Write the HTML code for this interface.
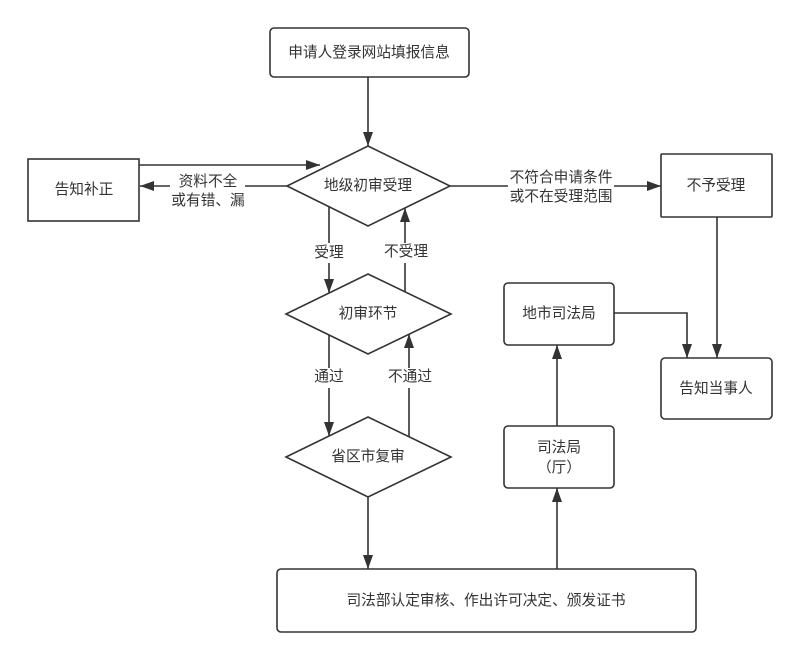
<!DOCTYPE html>
<html><head><meta charset="utf-8">
<style>
html,body{margin:0;padding:0;background:#fff;}
svg{display:block;}
text{font-family:"Liberation Sans","Noto Sans CJK SC",sans-serif;font-size:14.7px;fill:#333;}
</style></head>
<body>
<svg width="800" height="660" viewBox="0 0 800 660" xmlns="http://www.w3.org/2000/svg">
<defs>
<marker id="a" markerWidth="14" markerHeight="10" refX="14" refY="5" orient="auto" markerUnits="userSpaceOnUse">
<path d="M0,0 L14,5 L0,10 Z" fill="#333"/>
</marker>
</defs>
<g stroke="#333" stroke-width="1.6" fill="none">
<!-- boxes -->
<rect x="270" y="28" width="199" height="49" rx="4" fill="#fff"/>
<rect x="28" y="159" width="111" height="62" fill="#fff"/>
<rect x="661" y="154" width="111" height="63" rx="1" fill="#fff"/>
<rect x="504" y="283" width="110" height="62" rx="4" fill="#fff"/>
<rect x="661" y="358" width="111" height="61" rx="4" fill="#fff"/>
<rect x="504" y="426" width="110" height="62" rx="4" fill="#fff"/>
<rect x="277" y="569" width="419" height="63" rx="4" fill="#fff"/>
<!-- diamonds -->
<polygon points="368,146 450,186 368,226 287,186" fill="#fff"/>
<polygon points="368,274 451,314 368,354 286,314" fill="#fff"/>
<polygon points="368,417 451,457 368,497 286,457" fill="#fff"/>
<!-- connectors -->
<line x1="368" y1="77" x2="368" y2="146" marker-end="url(#a)"/>
<line x1="139" y1="165" x2="320" y2="165" marker-end="url(#a)"/>
<line x1="287" y1="186" x2="140" y2="186" marker-end="url(#a)"/>
<line x1="450" y1="186" x2="661" y2="186" marker-end="url(#a)"/>
<line x1="717" y1="217" x2="717" y2="358" marker-end="url(#a)"/>
<polyline points="614,313 687,313 687,358" marker-end="url(#a)"/>
<line x1="557" y1="426" x2="557" y2="345" marker-end="url(#a)"/>
<line x1="557" y1="569" x2="557" y2="488" marker-end="url(#a)"/>
<line x1="329" y1="207" x2="329" y2="293" marker-end="url(#a)"/>
<line x1="405" y1="292" x2="405" y2="208" marker-end="url(#a)"/>
<line x1="329" y1="335" x2="329" y2="436" marker-end="url(#a)"/>
<line x1="409" y1="437" x2="409" y2="334" marker-end="url(#a)"/>
<line x1="368" y1="497" x2="368" y2="569" marker-end="url(#a)"/>
</g>
<!-- label backgrounds -->
<g fill="#fff">
<rect x="170" y="172" width="75" height="38"/>
<rect x="508" y="168" width="106" height="38"/>
<rect x="312" y="243" width="34" height="20"/>
<rect x="383" y="243" width="46" height="20"/>
<rect x="312" y="368" width="34" height="20"/>
<rect x="386" y="368" width="48" height="20"/>
</g>
<g text-anchor="middle" dominant-baseline="central">
<text x="369" y="53">申请人登录网站填报信息</text>
<text x="84" y="190">告知补正</text>
<text x="368" y="186">地级初审受理</text>
<text x="716" y="186">不予受理</text>
<text x="559" y="314">地市司法局</text>
<text x="716" y="389">告知当事人</text>
<text x="368" y="314">初审环节</text>
<text x="368" y="457">省区市复审</text>
<text x="559" y="448">司法局</text>
<text x="559" y="468">（厅）</text>
<text x="486" y="601">司法部认定审核、作出许可决定、颁发证书</text>
<text x="208" y="182">资料不全</text>
<text x="208" y="201">或有错、漏</text>
<text x="561" y="178">不符合申请条件</text>
<text x="561" y="197">或不在受理范围</text>
<text x="329" y="253">受理</text>
<text x="406" y="252">不受理</text>
<text x="329" y="377">通过</text>
<text x="410" y="377">不通过</text>
</g>
</svg>
</body></html>
